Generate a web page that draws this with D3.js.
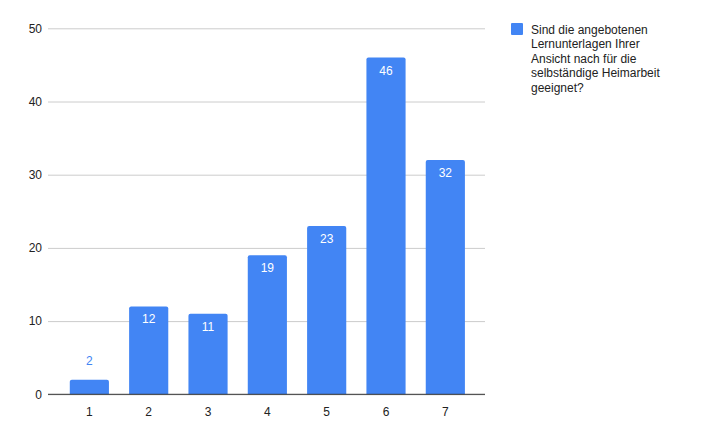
<!DOCTYPE html>
<html>
<head>
<meta charset="utf-8">
<script src="https://cdn.jsdelivr.net/npm/d3@7"></script>
<style>
  body { margin: 0; background: #fff; }
  text { font-family: Arial, "Liberation Sans", sans-serif; }
</style>
</head>
<body>
<svg id="chart"></svg>
<script>
// Chart data
const categories = ['1', '2', '3', '4', '5', '6', '7'];
const values = [2, 12, 11, 19, 23, 46, 32];
const yTicks = [0, 10, 20, 30, 40, 50];
const legendLines = [
  'Sind die angebotenen',
  'Lernunterlagen Ihrer',
  'Ansicht nach für die',
  'selbständige Heimarbeit',
  'geeignet?',
];

const width = 705;
const height = 436;
const barColor = '#4285f4';

const svg = d3.select('#chart')
  .attr('width', width)
  .attr('height', height);

// Scales, tuned to the reference plot area
const x = d3.scaleBand()
  .domain(categories)
  .range([59.7, 475])
  .paddingInner(0.34)
  .paddingOuter(0.17);

const y = d3.scaleLinear()
  .domain([0, 50])
  .range([394.3, 28.3]);

// Gridlines and y labels
const yAxis = d3.axisLeft(y)
  .tickValues(yTicks)
  .tickSize(-437)
  .tickPadding(6)
  .tickFormat(d3.format('d'));

const gy = svg.append('g')
  .attr('transform', 'translate(48,0)')
  .call(yAxis);
gy.select('.domain').remove();
gy.selectAll('.tick line').attr('stroke', '#cccccc');
gy.selectAll('.tick text')
  .attr('fill', '#222')
  .attr('font-size', 12);

// Bars with slightly rounded tops
const r = 2;
svg.append('g')
  .selectAll('path')
  .data(values)
  .join('path')
  .attr('fill', barColor)
  .attr('d', (d, i) => {
    const x0 = x(categories[i]);
    const w = x.bandwidth();
    const top = y(d);
    const base = y(0);
    return `M${x0},${base} V${top + r} Q${x0},${top} ${x0 + r},${top} H${x0 + w - r} Q${x0 + w},${top} ${x0 + w},${top + r} V${base} Z`;
  });

// Value labels: inside the bar when it is tall enough, else above
svg.append('g')
  .selectAll('text')
  .data(values)
  .join('text')
  .attr('text-anchor', 'middle')
  .attr('font-size', 12)
  .attr('x', (d, i) => x(categories[i]) + x.bandwidth() / 2)
  .attr('y', d => (y(0) - y(d) > 25 ? y(d) + 17 : y(d) - 15))
  .attr('fill', d => (y(0) - y(d) > 25 ? '#ffffff' : barColor))
  .text(d => d);

// Baseline
svg.append('line')
  .attr('x1', 48)
  .attr('x2', 485)
  .attr('y1', y(0))
  .attr('y2', y(0))
  .attr('stroke', '#333')
  .attr('stroke-width', 1);

// x labels
const xAxis = d3.axisBottom(x).tickSize(0).tickPadding(13);
const gx = svg.append('g')
  .attr('transform', `translate(0,${y(0)})`)
  .call(xAxis);
gx.select('.domain').remove();
gx.selectAll('.tick text')
  .attr('fill', '#222')
  .attr('font-size', 12);

// Legend
const legend = svg.append('g');
legend.append('rect')
  .attr('x', 511)
  .attr('y', 23)
  .attr('width', 12)
  .attr('height', 12)
  .attr('rx', 1)
  .attr('fill', barColor);
legend.append('text')
  .attr('font-size', 12)
  .attr('fill', '#222')
  .selectAll('tspan')
  .data(legendLines)
  .join('tspan')
  .attr('x', 531)
  .attr('y', (d, i) => 33.5 + i * 14.5)
  .text(d => d);
</script>
</body>
</html>
